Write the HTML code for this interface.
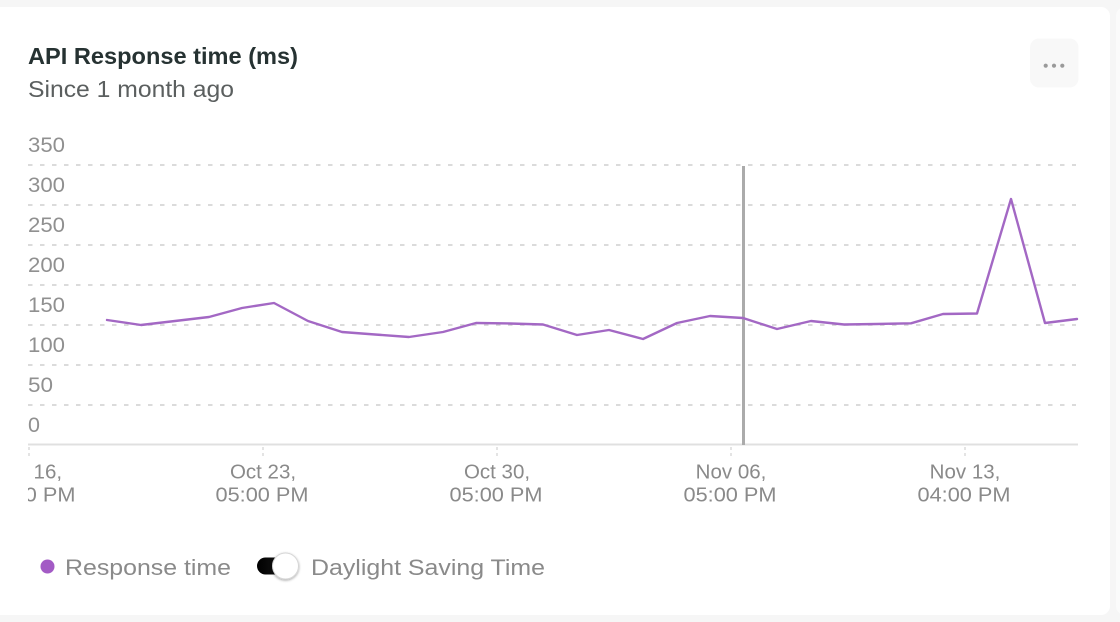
<!DOCTYPE html>
<html>
<head>
<meta charset="utf-8">
<style>
  html, body { margin: 0; padding: 0; }
  body { width: 1120px; height: 622px; background: #f6f6f6; overflow: hidden; position: relative; font-family: "Liberation Sans", sans-serif; }
  svg { position: absolute; left: 0; top: 0; }
</style>
</head>
<body>
<svg width="1120" height="622" viewBox="0 0 1120 622" xmlns="http://www.w3.org/2000/svg">
  <defs>
    <clipPath id="xclip"><rect x="28" y="440" width="1090" height="80"/></clipPath>
    <linearGradient id="trk" x1="0" y1="0" x2="1" y2="0">
      <stop offset="0" stop-color="#000"/>
      <stop offset="0.6" stop-color="#111"/>
      <stop offset="1" stop-color="#777"/>
    </linearGradient>
    <filter id="sh" x="-50%" y="-50%" width="200%" height="200%">
      <feDropShadow dx="0" dy="1" stdDeviation="1.2" flood-color="#000" flood-opacity="0.35"/>
    </filter>
  </defs>

  <!-- card -->
  <rect x="-10" y="7" width="1120" height="608" rx="9" fill="#ffffff"/>
  <rect x="1116" y="7" width="20" height="608" rx="9" fill="#fbfbfb"/>

  <!-- title -->
  <text x="28" y="64" font-size="23.5" font-weight="bold" fill="#263232" textLength="270" lengthAdjust="spacingAndGlyphs">API Response time (ms)</text>
  <text x="28" y="97" font-size="23" fill="#5b5f5f" textLength="206" lengthAdjust="spacingAndGlyphs">Since 1 month ago</text>

  <!-- menu button -->
  <rect x="1030" y="38.5" width="48.5" height="49" rx="9" fill="#f8f8f8"/>
  <circle cx="1045.7" cy="65.7" r="2.1" fill="#9a9a9a"/>
  <circle cx="1054" cy="65.7" r="2.1" fill="#9a9a9a"/>
  <circle cx="1062.3" cy="65.7" r="2.1" fill="#9a9a9a"/>

  <!-- y labels -->
  <g font-size="21.5" fill="#909090">
    <text x="28" y="152" textLength="37" lengthAdjust="spacingAndGlyphs">350</text>
    <text x="28" y="192" textLength="37" lengthAdjust="spacingAndGlyphs">300</text>
    <text x="28" y="232" textLength="37" lengthAdjust="spacingAndGlyphs">250</text>
    <text x="28" y="272" textLength="37" lengthAdjust="spacingAndGlyphs">200</text>
    <text x="28" y="312" textLength="37" lengthAdjust="spacingAndGlyphs">150</text>
    <text x="28" y="352" textLength="37" lengthAdjust="spacingAndGlyphs">100</text>
    <text x="28" y="392" textLength="25" lengthAdjust="spacingAndGlyphs">50</text>
    <text x="28" y="432">0</text>
  </g>

  <!-- gridlines -->
  <g stroke="#cfcfcf" stroke-width="1.5" stroke-dasharray="4.5 7.5">
    <line x1="28" y1="165" x2="1076" y2="165"/>
    <line x1="28" y1="205" x2="1076" y2="205"/>
    <line x1="28" y1="245" x2="1076" y2="245"/>
    <line x1="28" y1="285" x2="1076" y2="285"/>
    <line x1="28" y1="325" x2="1076" y2="325"/>
    <line x1="28" y1="365" x2="1076" y2="365"/>
    <line x1="28" y1="405" x2="1076" y2="405"/>
  </g>

  <!-- axis -->
  <line x1="28" y1="444.5" x2="1078" y2="444.5" stroke="#e0e0e0" stroke-width="2"/>
  <g stroke="#dcdcdc" stroke-width="1.5" stroke-dasharray="3 3">
    <line x1="29" y1="447" x2="29" y2="459"/>
    <line x1="263" y1="447" x2="263" y2="459"/>
    <line x1="497" y1="447" x2="497" y2="459"/>
    <line x1="731" y1="447" x2="731" y2="459"/>
    <line x1="965" y1="447" x2="965" y2="459"/>
  </g>

  <!-- x labels -->
  <g font-size="20.5" fill="#8a8a8a" text-anchor="middle" clip-path="url(#xclip)">
    <text x="29" y="478.5">Oct 16,</text>
    <text x="29" y="501.5" textLength="93" lengthAdjust="spacingAndGlyphs">05:00 PM</text>
    <text x="263" y="478.5">Oct 23,</text>
    <text x="262" y="501.5" textLength="93" lengthAdjust="spacingAndGlyphs">05:00 PM</text>
    <text x="497" y="478.5">Oct 30,</text>
    <text x="496" y="501.5" textLength="93" lengthAdjust="spacingAndGlyphs">05:00 PM</text>
    <text x="731" y="478.5">Nov 06,</text>
    <text x="730" y="501.5" textLength="93" lengthAdjust="spacingAndGlyphs">05:00 PM</text>
    <text x="965" y="478.5">Nov 13,</text>
    <text x="964" y="501.5" textLength="93" lengthAdjust="spacingAndGlyphs">04:00 PM</text>
  </g>

  <!-- vertical marker -->
  <line x1="743.5" y1="166" x2="743.5" y2="445" stroke="#ababab" stroke-width="3"/>

  <!-- series -->
  <polyline fill="none" stroke="#a368c4" stroke-width="2.4" stroke-linejoin="round" stroke-linecap="round"
    points="107,320 141,325 175,321 209,317 242,308 274,303 308,321 342,332 375,334.5 409,337 443,332 476,323 510,323.5 543,324.5 577,335 609,330 643,339 677,323 710,316 743,318 777,329 811,321 844,324.5 877,324 911,323.3 943,314 977,313.5 1011,199 1045,323 1077,319"/>

  <!-- legend -->
  <circle cx="47.5" cy="566.5" r="7" fill="#a35bc5"/>
  <text x="65" y="575" font-size="22.5" fill="#8a8a8a" textLength="166" lengthAdjust="spacingAndGlyphs">Response time</text>
  <rect x="257" y="557.5" width="34" height="17" rx="8.5" fill="url(#trk)"/>
  <circle cx="285.5" cy="566" r="13" fill="#ffffff" stroke="#d6d6d6" stroke-width="1" filter="url(#sh)"/>
  <text x="311" y="575" font-size="22.5" fill="#8a8a8a" textLength="234" lengthAdjust="spacingAndGlyphs">Daylight Saving Time</text>
</svg>
</body>
</html>
